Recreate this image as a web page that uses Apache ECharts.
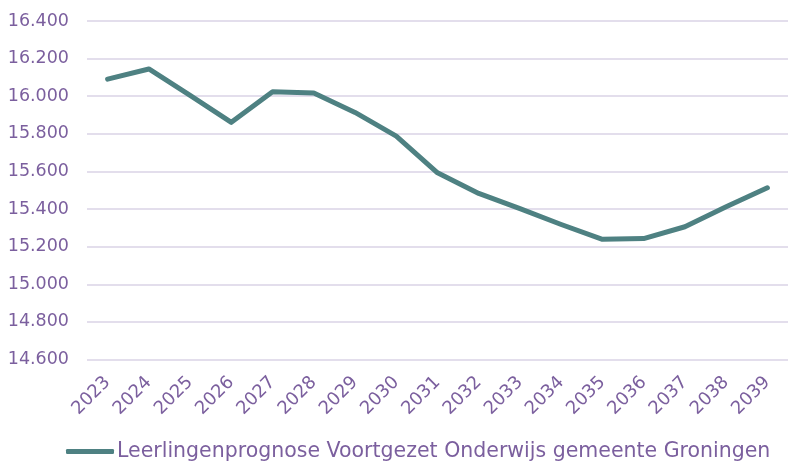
<!DOCTYPE html>
<html>
<head>
<meta charset="utf-8">
<script src="https://cdn.jsdelivr.net/npm/echarts@6/dist/echarts.min.js"></script>
<style>
html,body{margin:0;padding:0;background:#fff;}
#chart{width:788px;height:468px;}
</style>
</head>
<body>
<div id="chart"></div>
<script>
const years = ['2023','2024','2025','2026','2027','2028','2029','2030','2031','2032','2033','2034','2035','2036','2037','2038','2039'];
const leerlingen = [16091,16145,16005,15861,16024,16017,15914,15788,15593,15483,15402,15318,15239,15243,15306,15412,15513];
const seriesName = 'Leerlingenprognose Voortgezet Onderwijs gemeente Groningen';

const textColor = '#7B5F9E';
const font = 'DejaVu Sans';
const chart = echarts.init(document.getElementById('chart'));
chart.setOption({
  animation: false,
  grid: {left: 87, right: -4, top: 21, bottom: 108.5},
  legend: {
    bottom: 1, left: 61,
    itemWidth: 48, itemHeight: 5, itemGap: 4,
    icon: 'roundRect',
    textStyle: {color: textColor, fontFamily: font, fontSize: 20.5, padding: [0, 0, 0, -2]},
    data: [seriesName]
  },
  xAxis: {
    type: 'category', data: years, boundaryGap: true,
    axisLine: {show: false}, axisTick: {show: false},
    axisLabel: {rotate: 45, color: textColor, fontFamily: font, fontSize: 18, margin: 20, interval: 0}
  },
  yAxis: {
    type: 'value', min: 14600, max: 16400, interval: 200,
    axisLine: {show: false}, axisTick: {show: false},
    splitLine: {lineStyle: {color: '#DAD3E6', width: 1.5}},
    axisLabel: {color: textColor, fontFamily: font, fontSize: 17.5, margin: 18,
      formatter: v => (v/1000).toFixed(3)}
  },
  series: [{
    name: seriesName, type: 'line', data: leerlingen,
    showSymbol: false, symbol: 'none',
    lineStyle: {color: '#4E8182', width: 5, cap: 'round', join: 'round'},
    itemStyle: {color: '#4E8182'}
  }]
});
</script>
</body>
</html>
